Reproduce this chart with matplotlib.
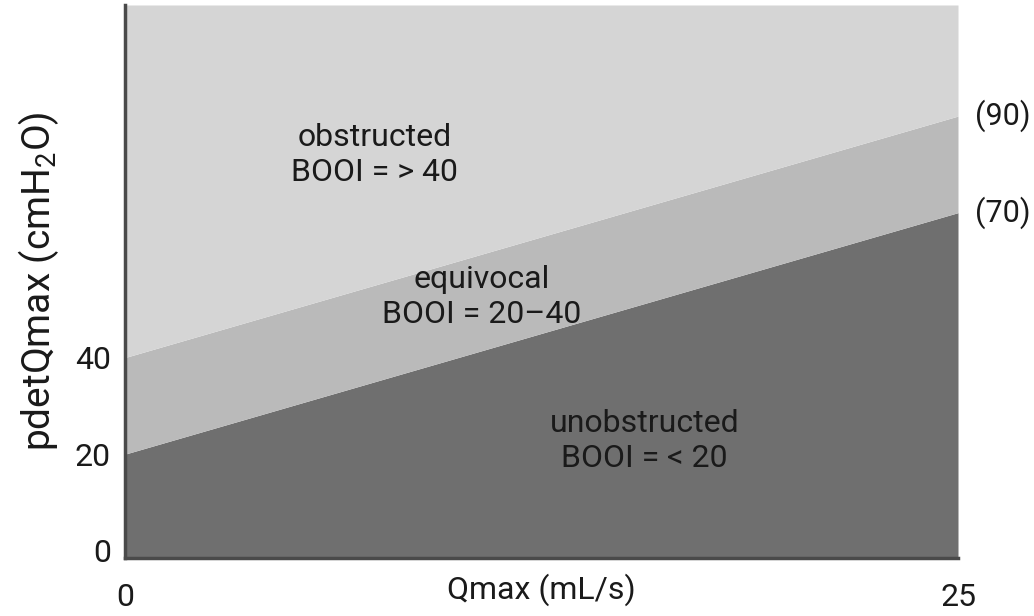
'''
 Bladder outlet obstruction index (BOOI) nomogram
'''

import matplotlib
matplotlib.use('Agg')
import matplotlib.pyplot as plt

plt.rcParams['font.family'] = ['Roboto', 'DejaVu Sans']
plt.rcParams['mathtext.fontset'] = 'custom'
plt.rcParams['mathtext.rm'] = 'Roboto'
plt.rcParams['mathtext.it'] = 'Roboto'

# BOOI = pdetQmax - 2*Qmax, boundary lines at BOOI 20 and 40
qmax = [0, 25]
booi_20_line = [20, 70]
booi_40_line = [40, 90]

zone_labels = ['obstructed\nBOOI = > 40', 'equivocal\nBOOI = 20\u201340',
               'unobstructed\nBOOI = < 20']
zone_label_x = [7.5, 10.7, 15.6]
zone_label_y = [82, 52.5, 22.7]

end_labels = ['(70)', '(90)']

y_ticks = [0, 20, 40]
x_ticks = [0, 25]

dark = '#6f6f6f'
mid = '#bababa'
light = '#d5d5d5'

fig = plt.figure(figsize=(10.34, 6.16), dpi=100)
ax = fig.add_axes([0.1209, 0.0942, 0.8056, 0.8977])

y_bottom, y_top = -1.5, 113
ax.fill_between(qmax, y_bottom, booi_20_line, color=dark, lw=0)
ax.fill_between(qmax, booi_20_line, booi_40_line, color=mid, lw=0)
ax.fill_between(qmax, booi_40_line, y_top, color=light, lw=0)

ax.set_xlim(qmax[0], qmax[-1])
ax.set_ylim(y_bottom, y_top)

for label, x, y in zip(zone_labels, zone_label_x, zone_label_y):
    ax.text(x, y, label, ha='center', va='center', fontsize=23,
            color='#1a1a1a', linespacing=1.25)

for label, y in zip(end_labels, [booi_20_line[-1], booi_40_line[-1]]):
    ax.text(qmax[-1] + 0.5, y, label, ha='left', va='center', fontsize=22,
            color='#1a1a1a')

ax.set_xticks(x_ticks)
ax.set_yticks(y_ticks)
ax.tick_params(length=0, labelsize=23, labelcolor='#1a1a1a')
ax.tick_params(axis='x', pad=18)
ax.tick_params(axis='y', pad=10)

ax.set_xlabel('Qmax (mL/s)', fontsize=23, color='#1a1a1a', labelpad=-28)
ax.set_ylabel('pdetQmax (cmH$_2$O)', fontsize=28, color='#1a1a1a',
              labelpad=10)

for side in ['top', 'right']:
    ax.spines[side].set_visible(False)
for side in ['left', 'bottom']:
    ax.spines[side].set_color('#4a4a4a')
    ax.spines[side].set_linewidth(2.5)

fig.savefig('out.png', dpi=100)
